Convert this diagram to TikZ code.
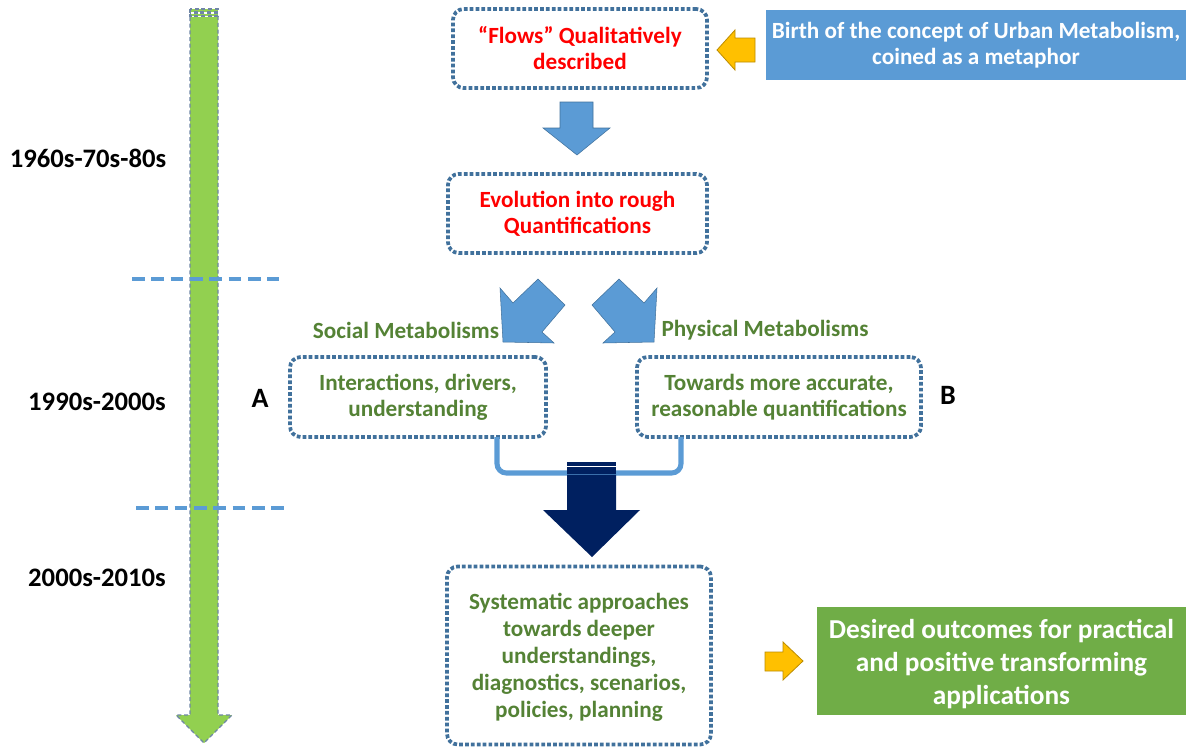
\documentclass[tikz,border=0pt]{standalone}
\usepackage{fontspec}
\setmainfont{Carlito}
\begin{document}
\definecolor{boxline}{HTML}{41719C}
\definecolor{flowred}{HTML}{FF0000}
\definecolor{txtgreen}{HTML}{548235}
\definecolor{accblue}{HTML}{5B9BD5}
\definecolor{accgreen}{HTML}{70AD47}
\definecolor{limegreen}{HTML}{92D050}
\definecolor{gold}{HTML}{FFC000}
\definecolor{goldline}{HTML}{BC8C00}
\definecolor{navy}{HTML}{002060}
\definecolor{rimgrey}{HTML}{6F86A6}
\begin{tikzpicture}[x=0.75pt,y=-0.75pt,
  every node/.style={font=\bfseries\fontsize{17.4}{19.5}\selectfont, align=center, inner sep=0pt},
  dotbox/.style={draw=boxline, line width=2.8pt, dash pattern=on 2.8pt off 1.6pt, rounded corners=8pt},
  redtxt/.style={text=flowred},
  greentxt/.style={text=txtgreen},
  period/.style={text=black, font=\bfseries\fontsize{20}{24}\selectfont},
  blockblue/.style={fill=accblue, draw=boxline, line width=0.4pt},
  goldarrow/.style={fill=gold, draw=goldline, line width=0.6pt},
  eraline/.style={draw=accblue, line width=3pt, dash pattern=on 9.5pt off 5pt},
  bigfont/.style={font=\bfseries\fontsize{20.5}{24.5}\selectfont}
]
\useasboundingbox (0,0) rectangle (1186,747);

% timeline arrow on the left
\fill[limegreen] (190,17) -- (218,17) -- (218,715) -- (232,715) -- (204,743) -- (176,715) -- (190,715) -- cycle;
\fill[limegreen] (190,9) rectangle (218,12);
\fill[limegreen] (190,13.5) rectangle (218,16);
\draw[rimgrey, line width=0.9pt, dash pattern=on 3pt off 2pt]
  (190,17) -- (190,715) -- (176,715) -- (204,743) -- (232,715) -- (218,715) -- (218,17);
\draw[rimgrey, line width=0.9pt, dash pattern=on 3pt off 2pt]
  (190,9) rectangle (218,12) (190,13.5) rectangle (218,16);

% era separators
\coordinate (sepAl) at (132,279);
\coordinate (sepAr) at (279,279);
\coordinate (sepBl) at (136,508);
\coordinate (sepBr) at (284,508);
\draw[eraline] (sepAl) -- (sepAr);
\draw[eraline] (sepBl) -- (sepBr);

% era labels
\node[period] (era1) at (88,158) {1960s-70s-80s};
\node[period] (era2) at (97,402) {1990s-2000s};
\node[period] (era3) at (97,578) {2000s-2010s};

% stage boxes
\node[dotbox, redtxt, minimum width=254*0.75pt, minimum height=79*0.75pt] (flows) at (580,48.5)
  {“Flows” Qualitatively\\described};
\node[dotbox, redtxt, minimum width=259*0.75pt, minimum height=79*0.75pt] (rough) at (577.5,213.5)
  {Evolution into rough\\Quantifications};
\node[dotbox, greentxt, minimum width=256*0.75pt, minimum height=80*0.75pt] (social) at (418,397)
  {Interactions, drivers,\\understanding};
\node[dotbox, greentxt, minimum width=284*0.75pt, minimum height=80*0.75pt] (physical) at (779,397)
  {Towards more accurate,\\reasonable quantifications};
\node[dotbox, greentxt, minimum width=264*0.75pt, minimum height=178*0.75pt] (system) at (579,655.5) {};
\node[greentxt, font=\bfseries\fontsize{17.4}{20.2}\selectfont] (systemtxt) at (579,657)
  {Systematic approaches\\towards deeper\\understandings,\\diagnostics, scenarios,\\policies, planning};

% branch labels
\node[greentxt] (soclab) at (406,330) {Social Metabolisms};
\node[greentxt] (phylab) at (765,330) {Physical Metabolisms};
\node[period, font=\bfseries\fontsize{21}{25}\selectfont] (labA) at (260,398) {A};
\node[period, font=\bfseries\fontsize{21}{25}\selectfont] (labB) at (948,395) {B};

% side boxes
\node[fill=accblue, text=white, minimum width=420*0.75pt, minimum height=70*0.75pt] (birth) at (976,45)
  {Birth of the concept of Urban Metabolism,\\coined as a metaphor};
\node[fill=accgreen, minimum width=369*0.75pt, minimum height=108*0.75pt] (desired) at (1001.5,661) {};
\node[text=white, bigfont] (desiredtxt) at (1001.5,664)
  {Desired outcomes for practical\\and positive transforming\\applications};

% gold pointers
\draw[goldarrow] (717,50) -- (735,30) -- (735,38) -- (755,38) -- (755,62) -- (735,62) -- (735,70) -- cycle;
\draw[goldarrow] (803,661) -- (783,642) -- (783,652) -- (765,652) -- (765,671) -- (783,671) -- (783,680) -- cycle;

% flows -> rough
\draw[blockblue] (560,102) -- (593,102) -- (593,128) -- (610,128) -- (577,155) -- (543,128) -- (560,128) -- cycle;

% rough -> two branches
\draw[blockblue] (538,279) -- (565,305) -- (542,332) -- (554,343) -- (503,342) -- (500,288) -- (513,303) -- cycle;
\draw[blockblue] (619,279) -- (592,305) -- (615,332) -- (603,343) -- (654,342) -- (657,288) -- (644,303) -- cycle;

% branches merge
\draw[accblue, line width=3.8pt, rounded corners=7pt] (497,437) -- (497,473) -- (681,473) -- (681,437);

% merged arrow into systematic approaches
\fill[navy] (567,462) rectangle (616,465.5);
\fill[navy] (567,467) rectangle (616,473.5);
\fill[navy] (567,474.5) -- (616,474.5) -- (616,510) -- (640,510) -- (592,557) -- (543,510) -- (567,510) -- cycle;

\end{tikzpicture}
\end{document}
